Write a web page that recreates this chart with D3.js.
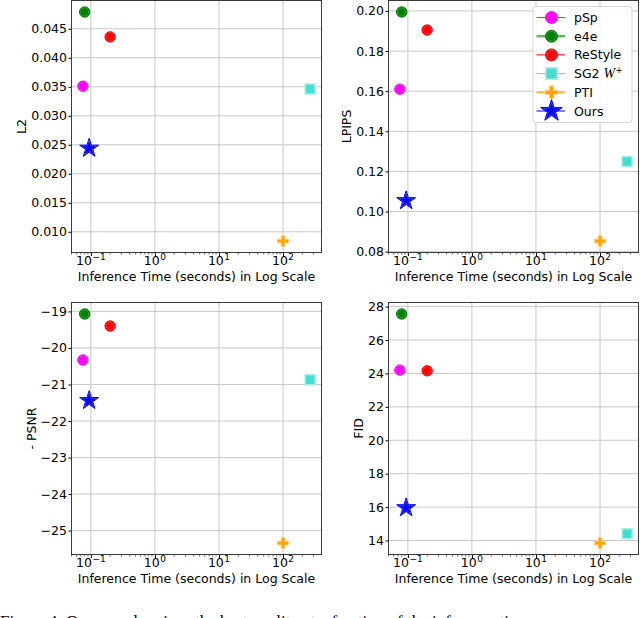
<!DOCTYPE html>
<html lang="en">
<head>
<meta charset="UTF-8">
<title>Inference time vs quality</title>
<script src="https://d3js.org/d3.v7.min.js"></script>
<style>
  body { margin: 0; background: #fff; }
  svg { display: block; font-family: "DejaVu Sans", sans-serif; }
  .grid line { stroke: #c8c8c8; stroke-width: 1; }
  .spine { fill: none; stroke: #3a3a3a; stroke-width: 1; }
</style>
</head>
<body>
<script>
// methods and their values
var methods = ["pSp", "e4e", "ReStyle", "SG2", "PTI", "Ours"];
var seconds = [0.075, 0.08, 0.2, 265, 100, 0.094];
var l2    = [0.0351, 0.0479, 0.0436, 0.0346, 0.0084, 0.0244];
var lpips = [0.161, 0.1995, 0.1905, 0.125, 0.0853, 0.1054];
var psnr  = [-20.33, -19.07, -19.40, -20.87, -25.34, -21.44];
var fid   = [24.2, 27.56, 24.16, 14.4, 13.85, 15.96];

// tick labels
var l2Ticks    = [0.010, 0.015, 0.020, 0.025, 0.030, 0.035, 0.040, 0.045];
var lpipsTicks = [0.08, 0.10, 0.12, 0.14, 0.16, 0.18, 0.20];
var psnrTicks  = [-25, -24, -23, -22, -21, -20, -19];
var fidTicks   = [14, 16, 18, 20, 22, 24, 26, 28];
var xMajor     = [0.1, 1, 10, 100];
var xMajorExp  = ["\u22121", "0", "1", "2"];

var colors  = ["#ff00ff", "#008000", "#ff0000", "#40e0d0", "#ffa500", "#0000ff"];
var shapes  = ["circle", "circle", "circle", "square", "plus", "star"];

var W = 640, H = 618;
var pw = 250, ph = 252;
var fs = 12.5;

var svg = d3.select("body").append("svg")
    .attr("width", W).attr("height", H);

// matplotlib style 5% margins
function padded(lo, hi) {
  var d = (hi - lo) * 0.05;
  return [lo - d, hi + d];
}

var lx = padded(Math.log10(d3.min(seconds)), Math.log10(d3.max(seconds)));
var xDomain = [Math.pow(10, lx[0]), Math.pow(10, lx[1])];

var panels = [
  {vals: l2,    ticks: l2Ticks,    fmt: d3.format(".3f"), label: "L2",     left: 71.5,  top: 0.5},
  {vals: lpips, ticks: lpipsTicks, fmt: d3.format(".2f"), label: "LPIPS",  left: 388.5, top: 0.5},
  {vals: psnr,  ticks: psnrTicks,  fmt: function(v){ return "\u2212" + Math.abs(v); }, label: "- PSNR", left: 71.5, top: 302.5},
  {vals: fid,   ticks: fidTicks,   fmt: d3.format("d"),   label: "FID",    left: 388.5, top: 302.5}
];

function symbolPath(shape, big) {
  var k = big ? 1.15 : 1;
  if (shape == "circle") return d3.symbol(d3.symbolCircle, 85 * k * k)();
  if (shape == "square") return d3.symbol(d3.symbolSquare, 100 * k * k)();
  if (shape == "plus") return d3.symbol(d3.symbolCross, 70 * k * k)();
  return d3.symbol(d3.symbolStar, 110 * k * k)();
}

function drawMarker(g, i, big) {
  var p = symbolPath(shapes[i], big);
  var c = colors[i];
  if (shapes[i] == "square") {
    g.append("path").attr("d", p).attr("fill", c)
      .attr("stroke", "#a6eee6").attr("stroke-width", 1.5);
  } else if (shapes[i] == "plus") {
    g.append("path").attr("d", p).attr("fill", c)
      .attr("stroke", "#ffd28a").attr("stroke-width", 1);
  } else {
    g.append("path").attr("d", p).attr("fill", c).attr("stroke", c).attr("stroke-width", 1);
    // faint white dotted ring that the original markers show
    g.append("path").attr("d", p).attr("transform", "scale(0.78)")
      .attr("fill", "none").attr("stroke", "#fff").attr("stroke-opacity", 0.75)
      .attr("stroke-width", 0.7).attr("stroke-dasharray", "1,1.2");
  }
}

panels.forEach(function(pn) {
  var g = svg.append("g").attr("transform", "translate(" + pn.left + "," + pn.top + ")");

  var x = d3.scaleLog().domain(xDomain).range([0, pw]);
  var ly = padded(d3.min(pn.vals), d3.max(pn.vals));
  var y = d3.scaleLinear().domain(ly).range([ph, 0]);

  // grid
  var grid = g.append("g").attr("class", "grid");
  grid.selectAll(".gx").data(xMajor).enter().append("line")
    .attr("x1", function(d){ return x(d); }).attr("x2", function(d){ return x(d); })
    .attr("y1", 0).attr("y2", ph);
  grid.selectAll(".gy").data(pn.ticks).enter().append("line")
    .attr("x1", 0).attr("x2", pw)
    .attr("y1", function(d){ return y(d); }).attr("y2", function(d){ return y(d); });

  // x axis: major ticks with 10^n labels, minor ticks
  var xAxis = g.append("g").attr("transform", "translate(0," + ph + ")");
  xAxis.call(d3.axisBottom(x).tickValues(xMajor).tickSize(3.5).tickFormat(""))
    .call(function(a){ a.select(".domain").remove(); });
  var minor = [];
  [0.01, 0.1, 1, 10, 100].forEach(function(dec) {
    for (var m = 2; m <= 9; m++) {
      var v = dec * m;
      if (v > xDomain[0] && v < xDomain[1]) minor.push(v);
    }
  });
  xAxis.selectAll(".minor").data(minor).enter().append("line")
    .attr("x1", function(d){ return x(d); }).attr("x2", function(d){ return x(d); })
    .attr("y1", 0).attr("y2", 2).attr("stroke", "#000").attr("stroke-width", 0.6);
  var lab = g.append("g").selectAll("text").data(xMajor).enter().append("text")
    .attr("x", function(d){ return x(d); }).attr("y", ph + 12.5)
    .attr("text-anchor", "middle").attr("font-size", fs).attr("fill", "#000");
  lab.append("tspan").text("10");
  lab.append("tspan").attr("dy", -5).attr("dx", 0.5).attr("font-size", 9)
    .text(function(d, i){ return xMajorExp[i]; });
  g.append("text").attr("x", pw / 2).attr("y", ph + 28)
    .attr("text-anchor", "middle").attr("font-size", fs)
    .text("Inference Time (seconds) in Log Scale");

  // y axis
  var yAxis = g.append("g");
  yAxis.call(d3.axisLeft(y).tickValues(pn.ticks).tickSize(3).tickPadding(1.5).tickFormat(pn.fmt))
    .call(function(a){ a.select(".domain").remove(); })
    .attr("font-family", "DejaVu Sans").attr("font-size", fs);
  var bb = yAxis.node().getBBox();
  g.append("text")
    .attr("transform", "translate(" + (bb.x - 5) + "," + (ph / 2) + ") rotate(-90)")
    .attr("text-anchor", "middle").attr("font-size", fs)
    .text(pn.label);

  // spines
  g.append("rect").attr("class", "spine").attr("width", pw).attr("height", ph);

  // points
  methods.forEach(function(m, i) {
    var mg = g.append("g")
      .attr("transform", "translate(" + x(seconds[i]) + "," + y(pn.vals[i]) + ")");
    drawMarker(mg, i, false);
  });
});

// legend in the LPIPS panel
var leg = svg.append("g").attr("transform", "translate(533,6.5)");
leg.append("rect").attr("width", 99).attr("height", 116).attr("rx", 3)
  .attr("fill", "#fff").attr("fill-opacity", 0.85)
  .attr("stroke", "#d6d6d6").attr("stroke-width", 1);
var lineW = [1, 2.5, 1, 1, 2.5, 1];
var lineA = [1, 0.6, 1, 1, 0.7, 1];
methods.forEach(function(m, i) {
  var row = leg.append("g").attr("transform", "translate(0," + (11 + i * 18.7) + ")");
  row.append("line").attr("x1", 3.5).attr("x2", 32).attr("y1", 0).attr("y2", 0)
    .attr("stroke", colors[i]).attr("stroke-width", lineW[i]).attr("stroke-opacity", lineA[i]);
  drawMarker(row.append("g").attr("transform", "translate(18.5,0)"), i, true);
  var t = row.append("text").attr("x", 41).attr("y", 4.5).attr("font-size", fs);
  if (m == "SG2") {
    t.append("tspan").text("SG2 ");
    t.append("tspan").attr("font-family", "'Liberation Serif', serif").attr("font-style", "italic")
      .attr("font-size", 14).text("W");
    t.append("tspan").attr("dy", -5).attr("font-size", 9).text("+");
  } else {
    t.text(m);
  }
});

// caption line, cut off by the bottom edge of the picture as in the original
svg.append("text").attr("x", 0).attr("y", 627)
  .attr("font-family", "'Liberation Serif', serif").attr("font-size", 17)
  .text("Figure 4: Our encoder gives the best quality at a fraction of the inference time.");
</script>
</body>
</html>
